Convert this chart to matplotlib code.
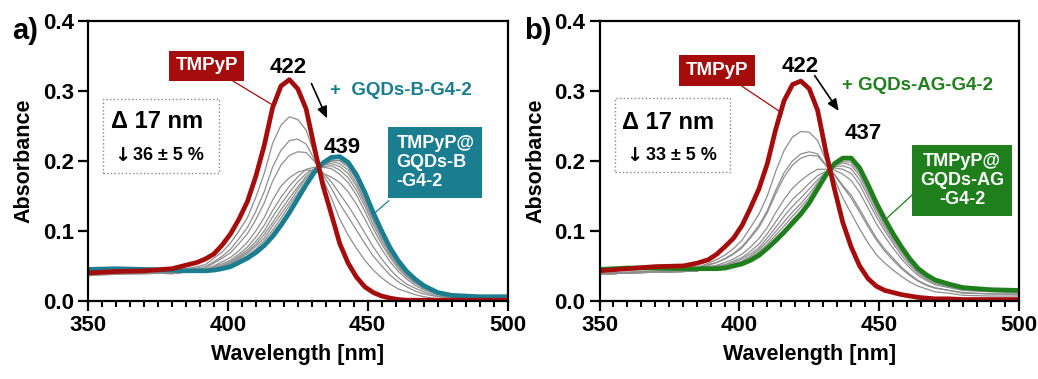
import numpy as np
import matplotlib
matplotlib.use("Agg")
import matplotlib.pyplot as plt
from matplotlib.patches import Rectangle
from matplotlib.ticker import MultipleLocator, FormatStrFormatter

plt.rcParams['font.family'] = ['Liberation Sans', 'DejaVu Sans']
plt.rcParams['font.weight'] = 'bold'

# wavelength grid (nm)
wl = [350, 360, 370, 380, 385, 389, 392, 395, 398, 401, 404, 407, 410, 413, 416, 419, 422,
      425, 428, 431, 434, 437, 440, 443, 446, 449, 452, 455, 458, 461, 464, 467, 470,
      475, 480, 490, 500]

# panel a
red_a = [.040, .042, .043, .046, .051, .055, .060, .067, .080, .096, .117, .142, .178, .222, .276, .307, .316,
         .303, .274, .218, .165, .124, .082, .054, .034, .020, .012, .007, .004, .002, .001, .001, .001,
         .001, .001, .001, .001]
teal_a = [.045, .046, .045, .044, .043, .043, .043, .044, .046, .049, .055, .061, .069, .079, .092, .108, .126,
          .146, .166, .184, .197, .205, .206, .198, .180, .155, .126, .100, .076, .057, .042, .031, .022,
          .012, .008, .006, .006]
gray_a = [
    [.036, .038, .039, .040, .046, .049, .052, .061, .070, .083, .100, .119, .148, .182, .225, .251, .263,
     .259, .244, .209, .174, .147, .117, .094, .075, .058, .044, .033, .024, .017, .013, .009, .006, .003, .002, .002, .002],
    [.037, .039, .039, .040, .044, .047, .049, .056, .064, .074, .089, .105, .128, .156, .191, .215, .229,
     .231, .224, .202, .180, .161, .139, .120, .101, .082, .064, .050, .037, .027, .020, .014, .010, .006, .004, .003, .003],
    [.038, .039, .039, .040, .043, .045, .047, .054, .061, .069, .082, .096, .116, .140, .171, .194, .208,
     .213, .212, .199, .183, .170, .153, .136, .117, .097, .077, .060, .045, .033, .024, .018, .013, .007, .005, .003, .003],
    [.039, .040, .039, .040, .042, .043, .045, .050, .056, .062, .072, .084, .100, .119, .144, .164, .176,
     .184, .187, .186, .182, .177, .169, .156, .138, .117, .094, .074, .056, .042, .031, .022, .016, .009, .006, .004, .004],
    [.039, .040, .040, .039, .042, .042, .043, .049, .053, .058, .067, .077, .091, .108, .129, .148, .164,
     .177, .188, .191, .191, .189, .181, .169, .151, .128, .103, .081, .062, .046, .034, .025, .018, .010, .006, .005, .005],
    [.039, .040, .040, .039, .041, .042, .043, .047, .051, .056, .064, .073, .085, .100, .120, .138, .155,
     .170, .182, .189, .192, .193, .187, .176, .158, .135, .109, .086, .065, .049, .036, .026, .019, .010, .007, .005, .005],
    [.039, .040, .040, .039, .041, .042, .042, .047, .050, .054, .062, .070, .081, .095, .112, .130, .147,
     .163, .178, .188, .194, .196, .192, .182, .164, .140, .114, .090, .068, .051, .038, .028, .020, .011, .007, .005, .005],
    [.038, .039, .040, .040, .041, .042, .043, .046, .049, .053, .060, .068, .078, .090, .107, .124, .141,
     .159, .175, .187, .194, .199, .196, .187, .168, .144, .117, .093, .070, .053, .039, .029, .020, .011, .007, .006, .006],
    [.038, .039, .040, .040, .041, .042, .043, .045, .048, .051, .058, .065, .074, .086, .101, .118, .136,
     .154, .171, .186, .195, .201, .200, .191, .173, .148, .120, .095, .072, .054, .040, .029, .021, .011, .008, .006, .006],
    [.038, .039, .040, .040, .041, .042, .043, .045, .047, .050, .056, .062, .072, .082, .097, .113, .131,
     .150, .168, .184, .195, .200, .201, .194, .176, .151, .123, .098, .074, .056, .041, .030, .021, .012, .008, .006, .006],
]

# panel b
red_b = [.043, .046, .049, .050, .054, .059, .067, .078, .090, .108, .133, .160, .196, .245, .286, .309, .314,
         .303, .272, .212, .160, .112, .077, .050, .032, .021, .015, .012, .009, .007, .005, .004, .003,
         .003, .002, .002, .002]
green_b = [.045, .047, .047, .046, .046, .046, .046, .047, .050, .053, .058, .065, .075, .086, .098, .111, .124,
           .140, .160, .180, .196, .204, .204, .190, .166, .140, .117, .096, .077, .060, .046, .037, .030,
           .024, .019, .016, .015]
gray_b = [
    [.039, .041, .043, .044, .048, .054, .059, .066, .075, .087, .105, .124, .150, .185, .215, .234, .242,
     .241, .229, .200, .174, .147, .125, .103, .083, .066, .054, .044, .035, .027, .021, .017, .013, .011, .008, .007, .007],
    [.038, .040, .042, .043, .046, .052, .055, .061, .068, .078, .092, .108, .129, .158, .183, .200, .210,
     .213, .210, .194, .180, .163, .147, .127, .106, .087, .071, .058, .046, .036, .028, .022, .018, .015, .011, .010, .009],
    [.038, .040, .042, .043, .046, .051, .055, .060, .067, .076, .090, .105, .126, .153, .177, .194, .204,
     .208, .207, .193, .181, .165, .151, .131, .110, .090, .074, .061, .048, .038, .029, .023, .019, .015, .012, .010, .010],
    [.038, .040, .041, .042, .044, .049, .051, .055, .060, .067, .077, .089, .105, .126, .145, .161, .172,
     .181, .188, .188, .187, .181, .172, .155, .133, .110, .092, .075, .060, .047, .036, .029, .023, .019, .015, .013, .012],
    [.038, .040, .041, .042, .043, .048, .050, .052, .057, .062, .071, .081, .096, .113, .130, .145, .156,
     .168, .179, .185, .190, .188, .182, .166, .143, .120, .100, .082, .065, .051, .039, .031, .025, .020, .016, .014, .013],
    [.038, .040, .041, .042, .043, .048, .049, .051, .055, .060, .067, .076, .090, .105, .121, .135, .147,
     .160, .173, .184, .192, .193, .189, .173, .150, .126, .105, .086, .069, .054, .041, .033, .027, .021, .017, .014, .013],
    [.038, .040, .041, .042, .043, .047, .048, .050, .053, .057, .064, .073, .085, .099, .113, .127, .139,
     .153, .169, .183, .193, .197, .194, .179, .155, .131, .109, .089, .072, .056, .043, .034, .028, .022, .018, .015, .014],
    [.038, .040, .041, .042, .043, .047, .047, .049, .052, .056, .062, .070, .081, .094, .107, .121, .134,
     .148, .166, .182, .194, .199, .198, .183, .159, .134, .112, .092, .074, .057, .044, .035, .029, .023, .018, .015, .014],
    [.039, .041, .042, .043, .044, .045, .046, .048, .051, .054, .060, .067, .077, .090, .102, .116, .129,
     .144, .163, .181, .195, .202, .201, .187, .163, .137, .115, .094, .075, .058, .045, .036, .029, .023, .018, .015, .014],
]

red_c = '#a50d0d'
teal_c = '#1b7e90'
green_c = '#1f7f1c'
gray_c = '#8e8e8e'


def panel(ax, red, final, grays, col, letter, peak2, pct_txt, add_txt, box_txt, box_align, pos):
    for g in grays:
        ax.plot(wl, g, color=gray_c, lw=0.9, solid_joinstyle='round')
    ax.plot(wl, final, color=col, lw=3.4, solid_joinstyle='round', solid_capstyle='round')
    ax.plot(wl, red, color=red_c, lw=3.4, solid_joinstyle='round', solid_capstyle='round')

    ax.set_xlim(350, 500)
    ax.set_ylim(0, 0.4)
    ax.xaxis.set_major_locator(MultipleLocator(50))
    ax.xaxis.set_minor_locator(MultipleLocator(5))
    ax.yaxis.set_major_locator(MultipleLocator(0.1))
    ax.yaxis.set_major_formatter(FormatStrFormatter('%.1f'))
    for s in ax.spines.values():
        s.set_linewidth(1.6)
    ax.tick_params(which='major', direction='out', length=7, width=1.6, labelsize=16, pad=3)
    ax.tick_params(axis='x', which='minor', direction='out', length=4.5, width=1.4)
    ax.set_xlabel('Wavelength [nm]', fontsize=15.5, fontweight='bold', labelpad=6)
    ax.set_ylabel('Absorbance', fontsize=15.5, fontweight='bold', labelpad=6)

    ax.text(-0.18, 0.965, letter, transform=ax.transAxes, fontsize=21, fontweight='bold',
            ha='left', va='center')

    # dotted info box
    ax.add_patch(Rectangle((pos['box'][0], pos['box'][1]), pos['box'][2], pos['box'][3],
                           transform=ax.transAxes, fill=False, ls=':', lw=1.0, ec='#888888'))
    ax.text(pos['d17'][0], pos['d17'][1], 'Δ 17 nm', transform=ax.transAxes, fontsize=17,
            fontweight='bold', ha='center', va='center')
    ax.text(pos['arr'], pos['pct'][1], '↓', transform=ax.transAxes, fontsize=14,
            family=['DejaVu Sans'], ha='center', va='center')
    ax.text(pos['pct'][0], pos['pct'][1], pct_txt, transform=ax.transAxes, fontsize=13,
            fontweight='bold', ha='left', va='center')

    # TMPyP label
    ax.plot(pos['red_line'][0], pos['red_line'][1], color=red_c, lw=0.9)
    ax.text(pos['tmpyp'][0], pos['tmpyp'][1], 'TMPyP', color='white', fontsize=13.5, fontweight='bold',
            ha='center', va='center', bbox=dict(boxstyle='square,pad=0.35', fc=red_c, ec='none'))
    ax.text(pos['p1'][0], pos['p1'][1], '422', fontsize=16, fontweight='bold', ha='center', va='center')
    ax.annotate('', xy=pos['arrow'][1], xytext=pos['arrow'][0],
                arrowprops=dict(arrowstyle='-|>,head_length=0.7,head_width=0.3', color='black', lw=1.2))
    ax.text(pos['add'][0], pos['add'][1], add_txt, color=col, fontsize=13.5, fontweight='bold',
            ha='left', va='center')
    ax.text(pos['p2'][0], pos['p2'][1], peak2, fontsize=16, fontweight='bold', ha='center', va='center')

    # complex label
    ax.plot(pos['col_line'][0], pos['col_line'][1], color=col, lw=0.9)
    ax.text(pos['cbox'][0], pos['cbox'][1], box_txt, color='white', fontsize=13, fontweight='bold',
            ha='center', va='center', multialignment=box_align, linespacing=1.15,
            bbox=dict(boxstyle='square,pad=0.45', fc=col, ec='none'))


fig, (ax1, ax2) = plt.subplots(1, 2, figsize=(10.38, 3.79), dpi=100)
fig.subplots_adjust(left=0.0848, right=0.9817, bottom=0.206, top=0.945, wspace=0.2193)

panel(ax1, red_a, teal_a, gray_a, teal_c, 'a)', '439', '36 ± 5 %', '+  GQDs-B-G4-2',
      'TMPyP@\nGQDs-B\n-G4-2', 'left',
      dict(box=(0.036, 0.457, 0.277, 0.264), d17=(0.165, 0.639), pct=(0.107, 0.518), arr=0.081,
           red_line=([399.8, 415.5], [0.319, 0.281]), tmpyp=(392.4, 0.336), p1=(421.6, 0.333),
           arrow=((429.5, 0.314), (435.9, 0.257)), add=(436.6, 0.30), p2=(440.8, 0.219),
           col_line=([457.5, 452.1], [0.143, 0.124]), cbox=(474.2, 0.198)))

panel(ax2, red_b, green_b, gray_b, green_c, 'b)', '437', '33 ± 5 %', '+ GQDs-AG-G4-2',
      'TMPyP@\nGQDs-AG\n-G4-2', 'center',
      dict(box=(0.038, 0.462, 0.274, 0.262), d17=(0.164, 0.638), pct=(0.11, 0.520), arr=0.083,
           red_line=([399.3, 415.4], [0.311, 0.268]), tmpyp=(392.0, 0.329), p1=(421.8, 0.335),
           arrow=((426.4, 0.325), (436.1, 0.268)), add=(436.8, 0.308), p2=(444.3, 0.239),
           col_line=([461.7, 452.7], [0.151, 0.118]), cbox=(479.6, 0.172)))

fig.savefig('out.png', dpi=100)
